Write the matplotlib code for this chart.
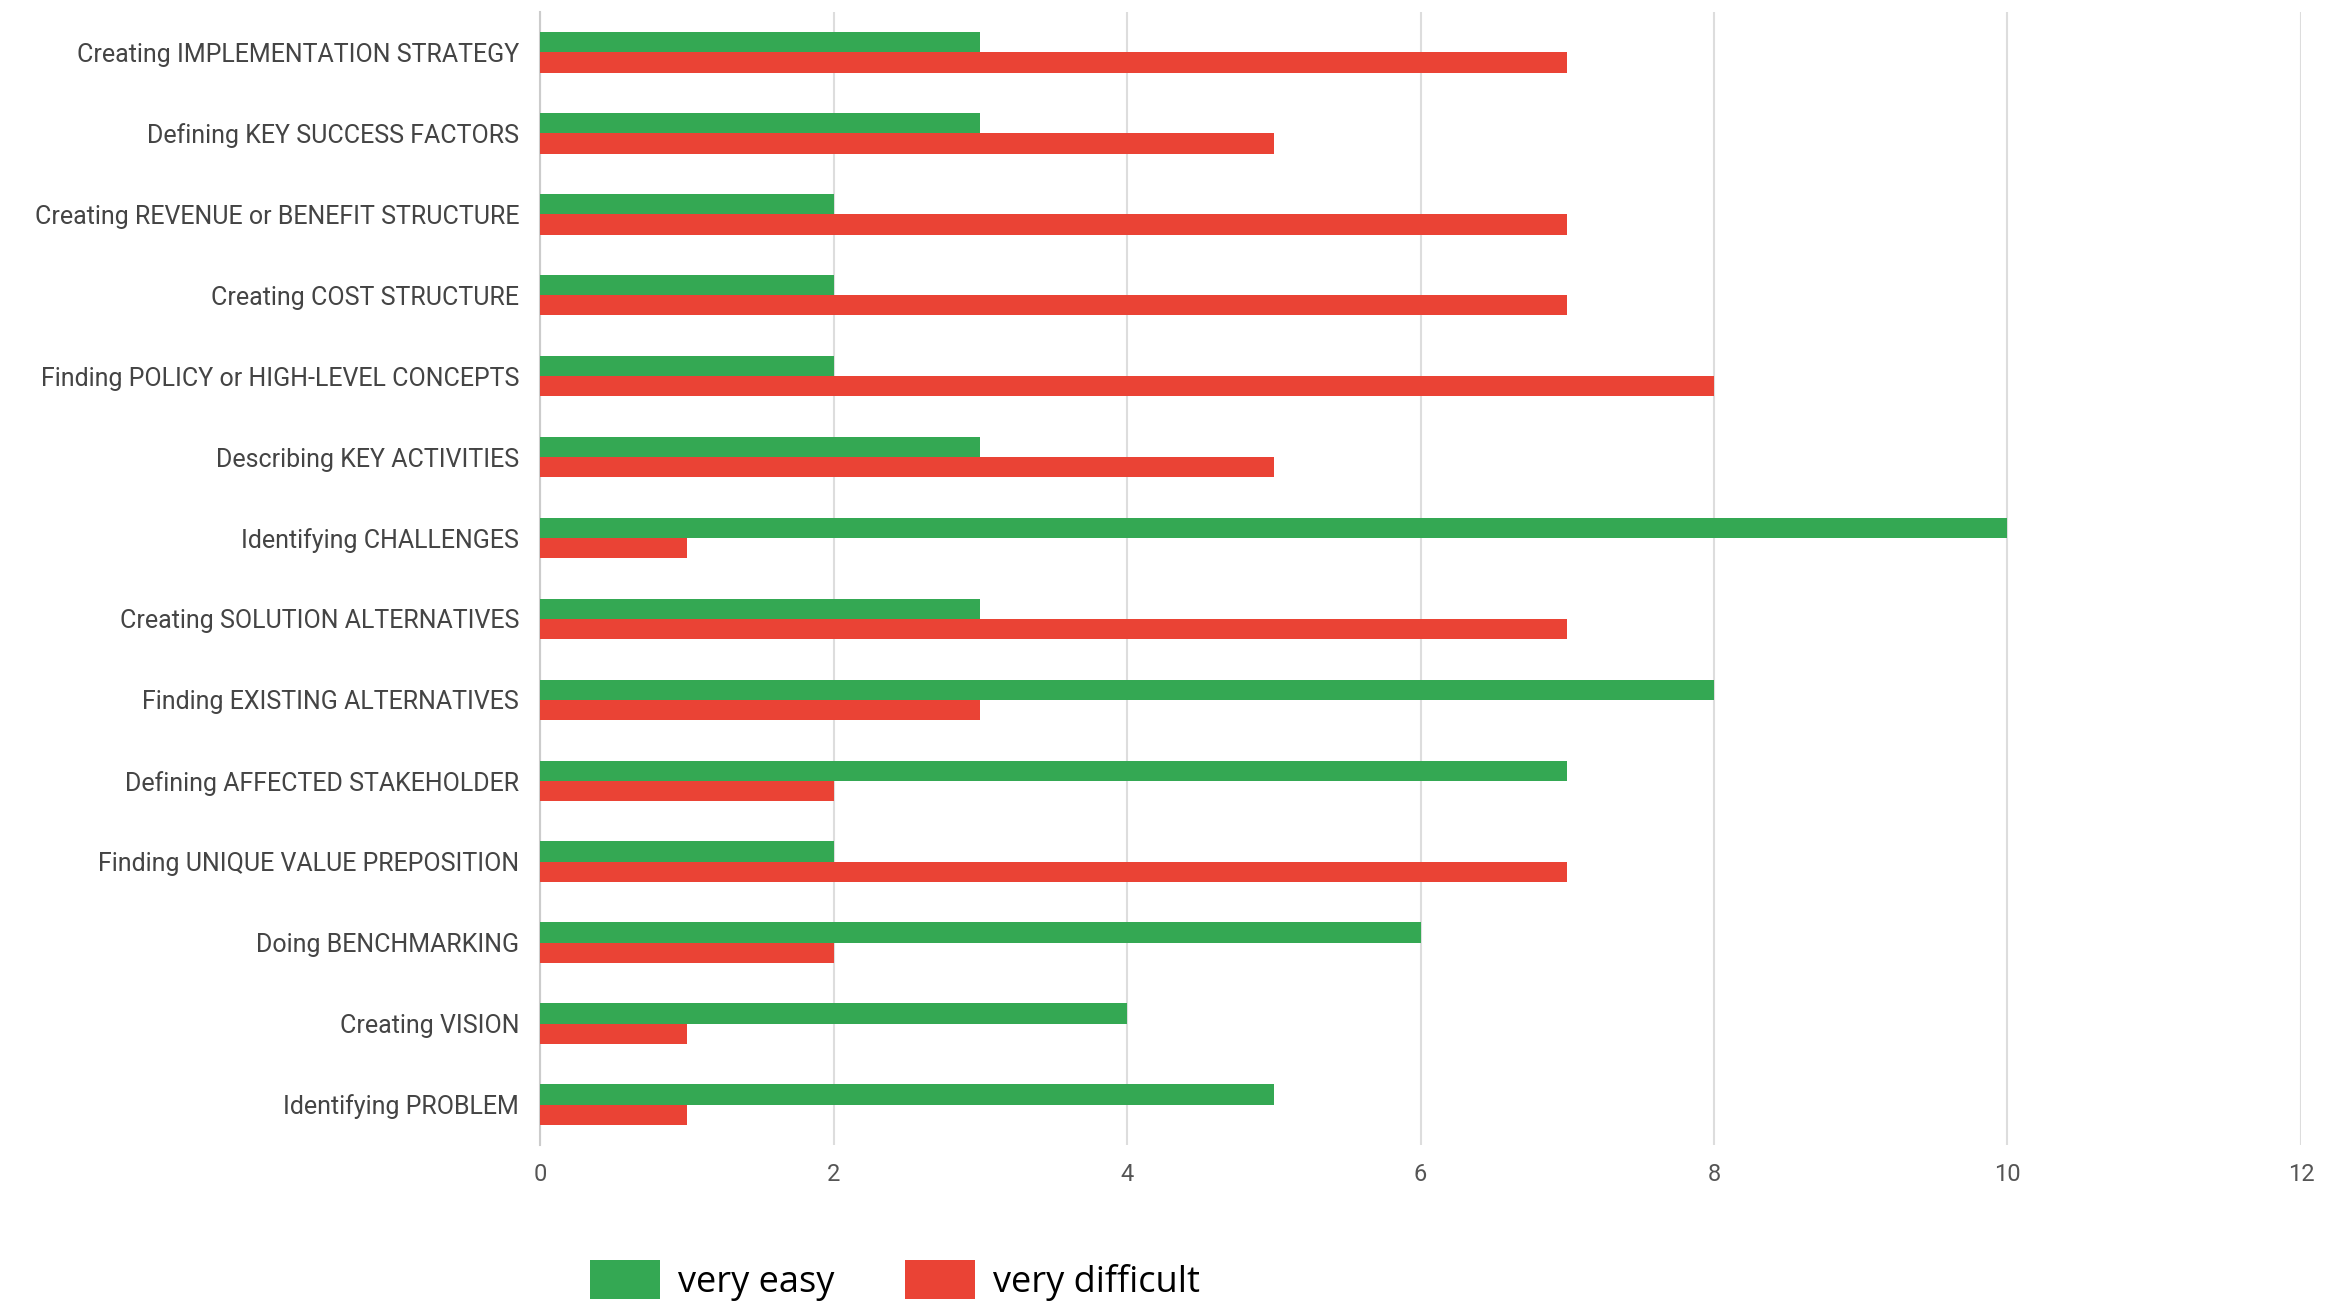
import matplotlib
matplotlib.use('Agg')

import matplotlib.pyplot as plt
import numpy as np

# categories listed top to bottom as in the chart
tasks = [
    "Creating IMPLEMENTATION STRATEGY",
    "Defining KEY SUCCESS FACTORS",
    "Creating REVENUE or BENEFIT STRUCTURE",
    "Creating COST STRUCTURE",
    "Finding POLICY or HIGH-LEVEL CONCEPTS",
    "Describing KEY ACTIVITIES",
    "Identifying CHALLENGES",
    "Creating SOLUTION ALTERNATIVES",
    "Finding EXISTING ALTERNATIVES",
    "Defining AFFECTED STAKEHOLDER",
    "Finding UNIQUE VALUE PREPOSITION",
    "Doing BENCHMARKING",
    "Creating VISION",
    "Identifying PROBLEM",
]
very_easy = [3, 3, 2, 2, 2, 3, 10, 3, 8, 7, 2, 6, 4, 5]
very_difficult = [7, 5, 7, 7, 8, 5, 1, 7, 3, 2, 7, 2, 1, 1]
x_ticks = [0, 2, 4, 6, 8, 10, 12]

green = "#34A853"
red = "#EA4335"

fig = plt.figure(figsize=(23.46, 13.02), dpi=100)
ax = fig.add_axes([0.2302, 0.1206, 0.7506, 0.8702])

n = len(tasks)
y = np.arange(n)[::-1]
h = 0.25
ax.barh(y + h / 2, very_easy, height=h, color=green, label="very easy", zorder=3)
ax.barh(y - h / 2, very_difficult, height=h, color=red, label="very difficult", zorder=3)

ax.set_ylim(-0.5, n - 0.5)
ax.set_xlim(0, 12)
ax.set_xticks(x_ticks)
ax.set_yticks(y)
ax.set_yticklabels(tasks, family="Roboto", fontsize=18, color="#444444")
ax.set_xticklabels([str(t) for t in x_ticks], family="Roboto", fontsize=17, color="#555555")
ax.tick_params(axis="y", length=0, pad=15)
ax.tick_params(axis="x", length=0, pad=13)

ax.grid(axis="x", color="#dddddd", linewidth=1.5, zorder=0)
for s in ["top", "right", "bottom"]:
    ax.spines[s].set_visible(False)
ax.spines["left"].set_color("#cccccc")
ax.spines["left"].set_linewidth(1.5)

leg = fig.legend(loc="center left", bbox_to_anchor=(0.2375, 0.0165), ncol=2, frameon=False,
                 prop={"family": "Open Sans", "size": 26}, handlelength=1.95, handleheight=1.3,
                 handletextpad=0.5, columnspacing=1.95)

fig.savefig("out.png", dpi=100, facecolor="white")
